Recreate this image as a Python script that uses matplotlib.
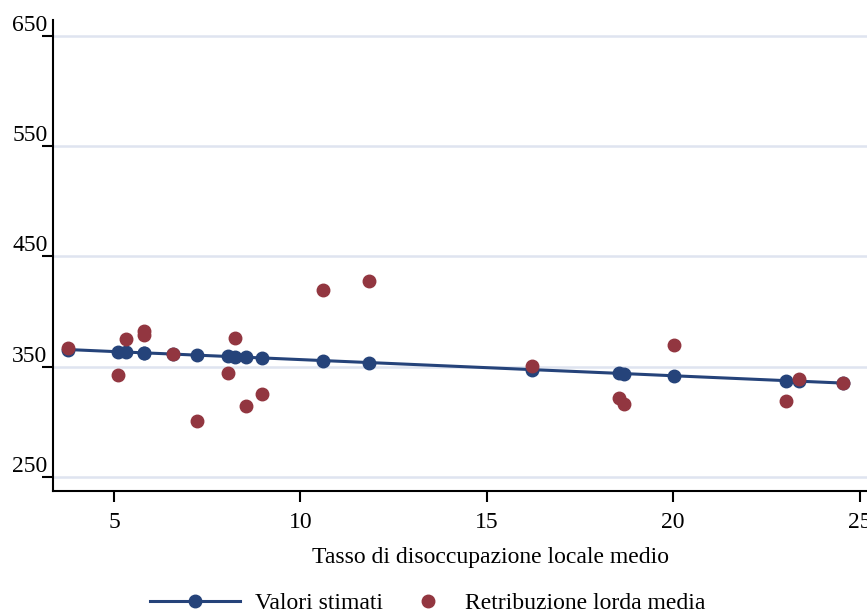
import numpy as np
import matplotlib
matplotlib.use('Agg')
import matplotlib.pyplot as plt

# tasso di disoccupazione locale medio (x) per ogni osservazione
tasso = [3.77, 5.11, 5.32, 5.80, 5.80, 6.58, 7.23, 8.06, 8.24, 8.54, 8.97,
         10.60, 11.84, 16.20, 18.54, 18.68, 20.02, 23.02, 23.37, 24.55]
# retribuzione lorda media osservata
retribuzione = [367.0, 342.5, 375.0, 382.4, 378.8, 361.6, 300.8, 344.3, 376.1, 314.4, 325.3,
                419.6, 427.8, 350.7, 321.7, 316.0, 369.5, 318.7, 338.6, 335.6]
# valori stimati (retta di regressione)
stimati = [365.6, 363.6, 363.3, 362.6, 362.6, 361.5, 360.5, 359.3, 359.0, 358.6, 358.0,
           355.6, 353.8, 347.4, 344.0, 343.8, 341.8, 337.4, 336.9, 335.2]

yticks = [250, 350, 450, 550, 650]
xticks = [5, 10, 15, 20, 25]

navy = '#25437a'
maroon = '#923640'
fs = 17

plt.rcParams['font.family'] = ['Liberation Serif', 'DejaVu Serif']

fig = plt.figure(figsize=(8.67, 6.14), dpi=100)
ax = fig.add_axes([53/867, 1-491/614, 1-53/867, (491-20)/614])

for v in yticks:
    ax.axhline(v, color='#dfe4f0', lw=1.8, zorder=0)

h1, = ax.plot(tasso, stimati, '-o', color=navy, lw=2.2, ms=9, zorder=2,
              label='Valori stimati')
h2, = ax.plot(tasso, retribuzione, 'o', color=maroon, ms=9, zorder=3,
              label='Retribuzione lorda media')

ax.set_xlim(3.36, 25.2)
ax.set_ylim(237.3, 664.5)
ax.set_xticks(xticks)
ax.set_yticks(yticks)
ax.set_yticklabels([str(v) for v in yticks])
for lab in ax.get_yticklabels():
    lab.set_verticalalignment('bottom')
ax.tick_params(axis='y', length=8, width=1.5, pad=-4, labelsize=fs)
ax.tick_params(axis='x', length=8, width=1.5, pad=7, labelsize=fs)
ax.spines['top'].set_visible(False)
ax.spines['right'].set_visible(False)
ax.spines['left'].set_linewidth(1.5)
ax.spines['bottom'].set_linewidth(1.5)

fig.text(491/867, 1-557/614, 'Tasso di disoccupazione locale medio', ha='center',
         va='center', fontsize=fs)

# legenda in due pezzi, come nel grafico Stata
leg1 = fig.legend(handles=[h1], loc='center left', bbox_to_anchor=(150/867, 1-603/614),
                  frameon=False, fontsize=fs, handlelength=3.8, handletextpad=0.65,
                  borderpad=0, borderaxespad=0, numpoints=1)
fig.legend(handles=[h2], loc='center left', bbox_to_anchor=(398/867, 1-603/614),
           frameon=False, fontsize=fs, handlelength=2.5, handletextpad=0.35,
           borderpad=0, borderaxespad=0, numpoints=1)

fig.savefig('out.png', dpi=100)
